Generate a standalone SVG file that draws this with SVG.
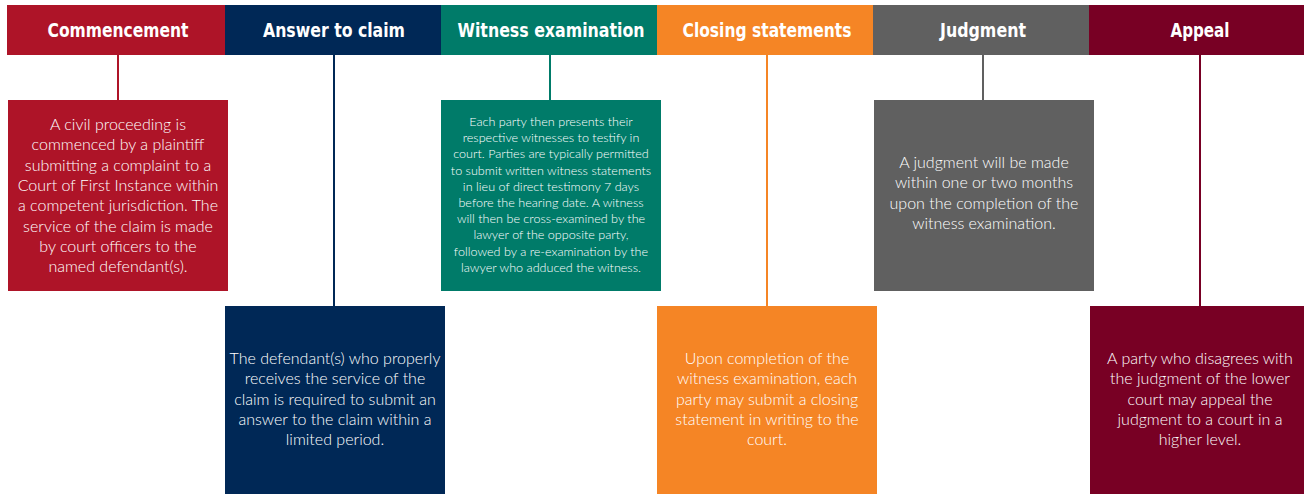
<svg xmlns="http://www.w3.org/2000/svg" width="1304" height="494" viewBox="0 0 1304 494">
<style>
.hd{font-family:"DejaVu Sans Condensed","DejaVu Sans",sans-serif;font-weight:bold;font-size:20px;fill:#fff;text-anchor:middle}
.bd{font-family:Lato,"Open Sans",sans-serif;font-weight:300;font-size:16px;fill:#fff;text-anchor:middle}
.sm{font-family:Lato,"Open Sans",sans-serif;font-weight:300;font-size:12.6px;fill:#fff;text-anchor:middle}
.ln{stroke-width:2;fill:none}
</style>
<rect width="1304" height="494" fill="#fff"/>
<g id="connectors">
<line class="ln" x1="118" y1="55" x2="118" y2="100" stroke="#AE1428"/>
<line class="ln" x1="334" y1="55" x2="334" y2="306" stroke="#002856"/>
<line class="ln" x1="550" y1="55" x2="550" y2="100" stroke="#007B69"/>
<line class="ln" x1="767" y1="55" x2="767" y2="306" stroke="#F58525"/>
<line class="ln" x1="983" y1="55" x2="983" y2="100" stroke="#606060"/>
<line class="ln" x1="1200" y1="55" x2="1200" y2="306" stroke="#780024"/>
</g>
<g id="commencement">
<rect x="7" y="5" width="218" height="50" fill="#AE1428"/>
<text class="hd" x="118" y="37" textLength="141" lengthAdjust="spacingAndGlyphs">Commencement</text>
<rect x="8" y="100" width="220" height="191" fill="#AE1428"/>
<text class="bd" x="118" y="130">A civil proceeding is<tspan x="118" dy="20.3">commenced by a plaintiff</tspan><tspan x="118" dy="20.3">submitting a complaint to a</tspan><tspan x="118" dy="20.3">Court of First Instance within</tspan><tspan x="118" dy="20.3">a competent jurisdiction. The</tspan><tspan x="118" dy="20.3">service of the claim is made</tspan><tspan x="118" dy="20.3">by court officers to the</tspan><tspan x="118" dy="20.3">named defendant(s).</tspan></text>
</g>
<g id="answer">
<rect x="225" y="5" width="216" height="50" fill="#002856"/>
<text class="hd" x="334" y="37" textLength="142" lengthAdjust="spacingAndGlyphs">Answer to claim</text>
<rect x="225" y="306" width="220" height="188" fill="#002856"/>
<text class="bd" x="335" y="364">The defendant(s) who properly<tspan x="335" dy="20.3">receives the service of the</tspan><tspan x="335" dy="20.3">claim is required to submit an</tspan><tspan x="335" dy="20.3">answer to the claim within a</tspan><tspan x="335" dy="20.3">limited period.</tspan></text>
</g>
<g id="witness">
<rect x="441" y="5" width="216" height="50" fill="#007B69"/>
<text class="hd" x="551" y="37" textLength="187" lengthAdjust="spacingAndGlyphs">Witness examination</text>
<rect x="441" y="100" width="220" height="191" fill="#007B69"/>
<text class="sm" x="551" y="126">Each party then presents their<tspan x="551" dy="16.2">respective witnesses to testify in</tspan><tspan x="551" dy="16.2">court. Parties are typically permitted</tspan><tspan x="551" dy="16.2">to submit written witness statements</tspan><tspan x="551" dy="16.2">in lieu of direct testimony 7 days</tspan><tspan x="551" dy="16.2">before the hearing date. A witness</tspan><tspan x="551" dy="16.2">will then be cross-examined by the</tspan><tspan x="551" dy="16.2">lawyer of the opposite party,</tspan><tspan x="551" dy="16.2">followed by a re-examination by the</tspan><tspan x="551" dy="16.2">lawyer who adduced the witness.</tspan></text>
</g>
<g id="closing">
<rect x="657" y="5" width="216" height="50" fill="#F58525"/>
<text class="hd" x="767" y="37" textLength="169" lengthAdjust="spacingAndGlyphs">Closing statements</text>
<rect x="657" y="306" width="220" height="188" fill="#F58525"/>
<text class="bd" x="767" y="364">Upon completion of the<tspan x="767" dy="20.3">witness examination, each</tspan><tspan x="767" dy="20.3">party may submit a closing</tspan><tspan x="767" dy="20.3">statement in writing to the</tspan><tspan x="767" dy="20.3">court.</tspan></text>
</g>
<g id="judgment">
<rect x="873" y="5" width="216" height="50" fill="#606060"/>
<text class="hd" x="983" y="37" textLength="86" lengthAdjust="spacingAndGlyphs">Judgment</text>
<rect x="874" y="100" width="220" height="191" fill="#606060"/>
<text class="bd" x="984" y="168">A judgment will be made<tspan x="984" dy="20.3">within one or two months</tspan><tspan x="984" dy="20.3">upon the completion of the</tspan><tspan x="984" dy="20.3">witness examination.</tspan></text>
</g>
<g id="appeal">
<rect x="1089" y="5" width="215" height="50" fill="#780024"/>
<text class="hd" x="1200" y="37" textLength="59" lengthAdjust="spacingAndGlyphs">Appeal</text>
<rect x="1090" y="306" width="214" height="188" fill="#780024"/>
<text class="bd" x="1200" y="364">A party who disagrees with<tspan x="1200" dy="20.3">the judgment of the lower</tspan><tspan x="1200" dy="20.3">court may appeal the</tspan><tspan x="1200" dy="20.3">judgment to a court in a</tspan><tspan x="1200" dy="20.3">higher level.</tspan></text>
</g>
</svg>
